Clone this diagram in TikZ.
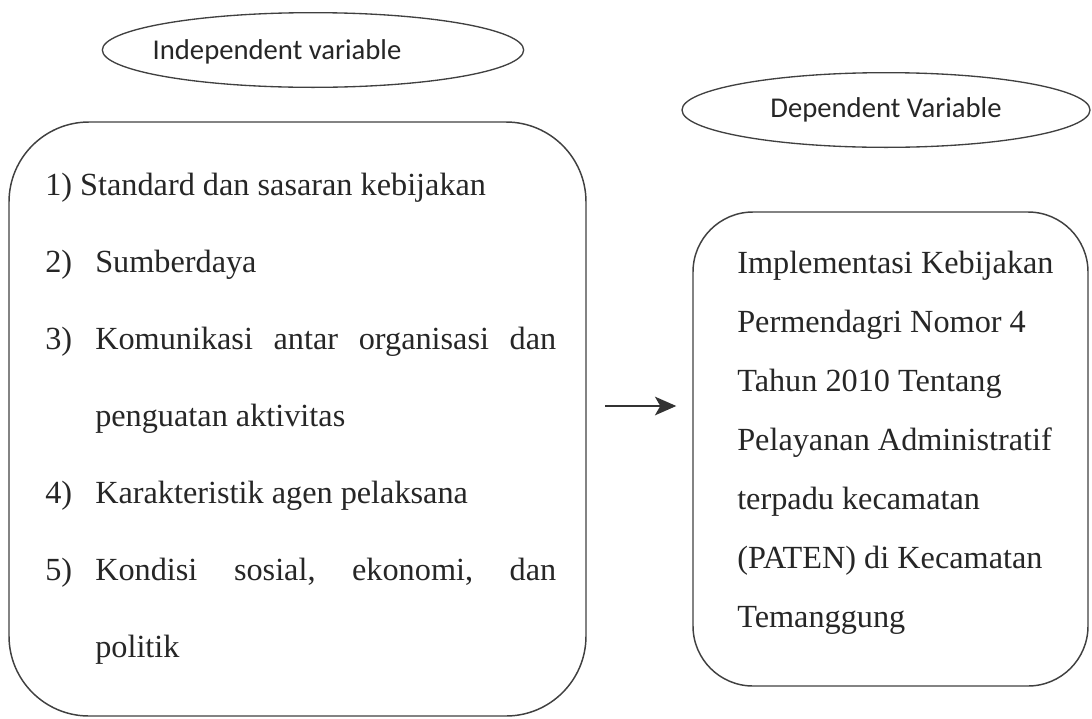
\documentclass[tikz,border=0pt]{standalone}
\usepackage{fontspec}
\setmainfont{Liberation Serif}
\newfontfamily\ovalfont{Carlito}
\usetikzlibrary{arrows.meta,shapes,positioning}

\begin{document}
\begin{tikzpicture}[x=0.75pt, y=-0.75pt,
    every node/.style={inner sep=0pt, text=black!85},
    oval/.style={draw=black!75, line width=1pt, ellipse, minimum height=56pt},
    ovaltext/.style={font=\ovalfont\fontsize{21.5}{26}\selectfont},
    panel/.style={draw=black!75, line width=1.1pt},
    item/.style={anchor=base west, font=\fontsize{24.2}{28}\selectfont}]
    \useasboundingbox (0,0) rectangle (1092,718);

    % Headings
    \node[oval, minimum width=316pt] (indepoval) at (313,50) {};
    \node[ovaltext] (indeptext) at (277,52) {Independent variable};
    \node[oval, ovaltext, minimum width=306pt] (depoval) at (886,110) {Dependent Variable};

    % Boxes
    \node[panel, rounded corners=60pt, minimum width=432.75pt, minimum height=445.5pt] (indepbox) at (297.5,419) {};
    \node[panel, rounded corners=45pt, minimum width=296.25pt, minimum height=355.5pt] (depbox) at (890.5,449) {};

    % Independent items
    \node[item] (itemone) at (45,195) {1) Standard dan sasaran kebijakan};
    \node[item] (numtwo) at (45,272) {2)};
    \node[item] (itemtwo) at (95,272) {Sumberdaya};
    \node[item] (numthree) at (45,349) {3)};
    \node[item] (itemthree) at (95,349) {\hbox to 345.75pt{Komunikasi\hfill antar\hfill organisasi\hfill dan}};
    \node[item] (itemthreeb) at (95,426) {penguatan aktivitas};
    \node[item] (numfour) at (45,503) {4)};
    \node[item] (itemfour) at (95,503) {Karakteristik agen pelaksana};
    \node[item] (numfive) at (45,580) {5)};
    \node[item] (itemfive) at (95,580) {\hbox to 345.75pt{Kondisi\hfill sosial,\hfill ekonomi,\hfill dan}};
    \node[item] (itemfiveb) at (95,657) {politik};

    % Dependent text
    \foreach \txt [count=\i from 0] in {Implementasi Kebijakan, Permendagri Nomor 4, Tahun 2010 Tentang,
        Pelayanan Administratif, terpadu kecamatan, (PATEN) di Kecamatan, Temanggung}
      \node[item] (dep\i) at (737,273+59*\i) {\txt};

    % Arrow
    \coordinate (arrowrow) at (0,406);
    \draw[-{Stealth[length=16pt,width=14pt,inset=4pt]}, draw=black!80, fill=black!80, line width=1.2pt, shorten <=14pt, shorten >=12pt]
      (indepbox.east |- arrowrow) -- (depbox.west |- arrowrow);
\end{tikzpicture}
\end{document}
